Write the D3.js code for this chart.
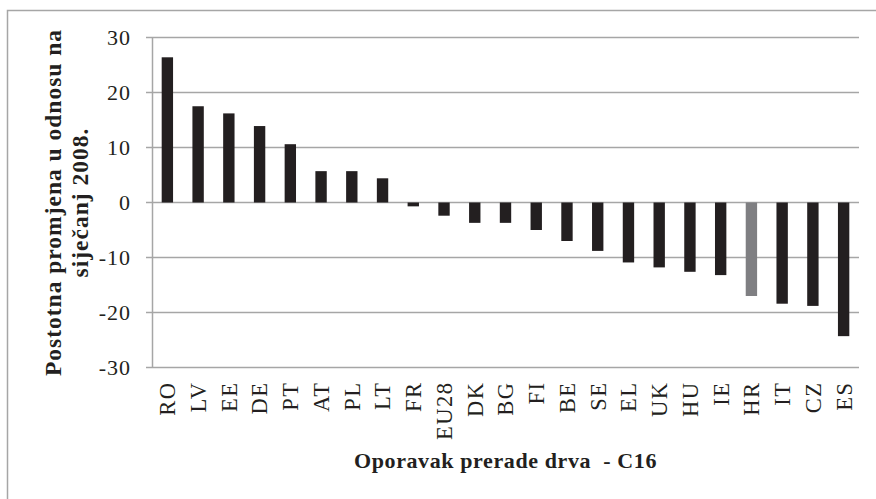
<!DOCTYPE html>
<html>
<head>
<meta charset="utf-8">
<script src="https://cdn.jsdelivr.net/npm/d3@7"></script>
<style>
  body { margin: 0; background: #fff; }
  svg { display: block; font-family: "Liberation Serif", "Times New Roman", serif; }
</style>
</head>
<body>
<div id="chart"></div>
<script>
const countries = ["RO", "LV", "EE", "DE", "PT", "AT", "PL", "LT", "FR", "EU28", "DK", "BG",
  "FI", "BE", "SE", "EL", "UK", "HU", "IE", "HR", "IT", "CZ", "ES"];
const changes = [26.4, 17.5, 16.2, 13.9, 10.6, 5.7, 5.7, 4.4, -0.7, -2.4, -3.7, -3.7,
  -5.0, -7.0, -8.8, -10.9, -11.8, -12.6, -13.2, -17.0, -18.4, -18.8, -24.3];
const yTicks = [30, 20, 10, 0, -10, -20, -30];
const highlight = "HR";

const W = 876, H = 499;
const margin = { top: 37.5, right: 17, bottom: 131.5, left: 152 };
const width = W - margin.left - margin.right;
const height = H - margin.top - margin.bottom;

const data = countries.map((c, i) => ({ country: c, value: changes[i] }));

const svg = d3.select("#chart").append("svg")
  .attr("width", W)
  .attr("height", H);

// outer chart border
svg.append("rect")
  .attr("x", 7.5).attr("y", 10.5)
  .attr("width", W + 10).attr("height", H + 10)
  .attr("fill", "none")
  .attr("stroke", "#a6a6a6")
  .attr("stroke-width", 1.5);

const g = svg.append("g")
  .attr("transform", `translate(${margin.left},${margin.top})`);

const x = d3.scaleBand()
  .domain(countries)
  .range([0, width])
  .paddingInner(0.63)
  .paddingOuter(0.315);

const y = d3.scaleLinear()
  .domain([-30, 30])
  .range([height, 0]);

// gridlines
g.append("g")
  .selectAll("line")
  .data(yTicks)
  .join("line")
  .attr("x1", -6)
  .attr("x2", width)
  .attr("y1", d => y(d))
  .attr("y2", d => y(d))
  .attr("stroke", "#a6a6a6")
  .attr("stroke-width", 1.5);

// y axis
const yAxis = g.append("g")
  .call(d3.axisLeft(y).tickValues(yTicks).tickSize(0).tickPadding(21).tickFormat(d3.format("d")));
yAxis.select(".domain").attr("stroke", "#a6a6a6").attr("stroke-width", 1.5);
yAxis.selectAll("text")
  .attr("font-family", "Liberation Serif")
  .attr("font-size", 22)
  .attr("letter-spacing", 1)
  .attr("fill", "#231f20")
  .text(d => d < 0 ? "-" + Math.abs(d) : d);

// bars
g.append("g")
  .selectAll("rect")
  .data(data)
  .join("rect")
  .attr("x", d => x(d.country))
  .attr("y", d => y(Math.max(0, d.value)))
  .attr("width", x.bandwidth())
  .attr("height", d => Math.abs(y(d.value) - y(0)))
  .attr("fill", d => d.country === highlight ? "#7f7f82" : "#231f20");

// category labels
const xAxis = g.append("g")
  .attr("transform", `translate(0,${height})`)
  .call(d3.axisBottom(x).tickSize(0).tickPadding(0));
xAxis.select(".domain").remove();
xAxis.selectAll("text")
  .attr("font-family", "Liberation Serif")
  .attr("font-size", 22.5)
  .attr("letter-spacing", 1.5)
  .attr("fill", "#231f20")
  .attr("transform", "rotate(-90)")
  .attr("text-anchor", "end")
  .attr("x", -14)
  .attr("y", 0)
  .attr("dy", "0.35em");

// axis titles
const titleY = margin.top + height / 2;
svg.append("text")
  .attr("transform", `translate(61,${titleY}) rotate(-90)`)
  .attr("text-anchor", "middle")
  .attr("font-weight", "bold")
  .attr("font-size", 23.5)
  .attr("letter-spacing", 1)
  .attr("fill", "#231f20")
  .text("Postotna promjena u odnosu na");

svg.append("text")
  .attr("transform", `translate(88,${titleY}) rotate(-90)`)
  .attr("text-anchor", "middle")
  .attr("font-weight", "bold")
  .attr("font-size", 23.5)
  .attr("letter-spacing", 1)
  .attr("fill", "#231f20")
  .text("siječanj 2008.");

svg.append("text")
  .attr("x", margin.left + width / 2)
  .attr("y", 468)
  .attr("text-anchor", "middle")
  .attr("font-weight", "bold")
  .attr("font-size", 22)
  .attr("letter-spacing", 0.6)
  .attr("fill", "#231f20")
  .style("white-space", "pre")
  .text("Oporavak prerade drva  - C16");
</script>
</body>
</html>
